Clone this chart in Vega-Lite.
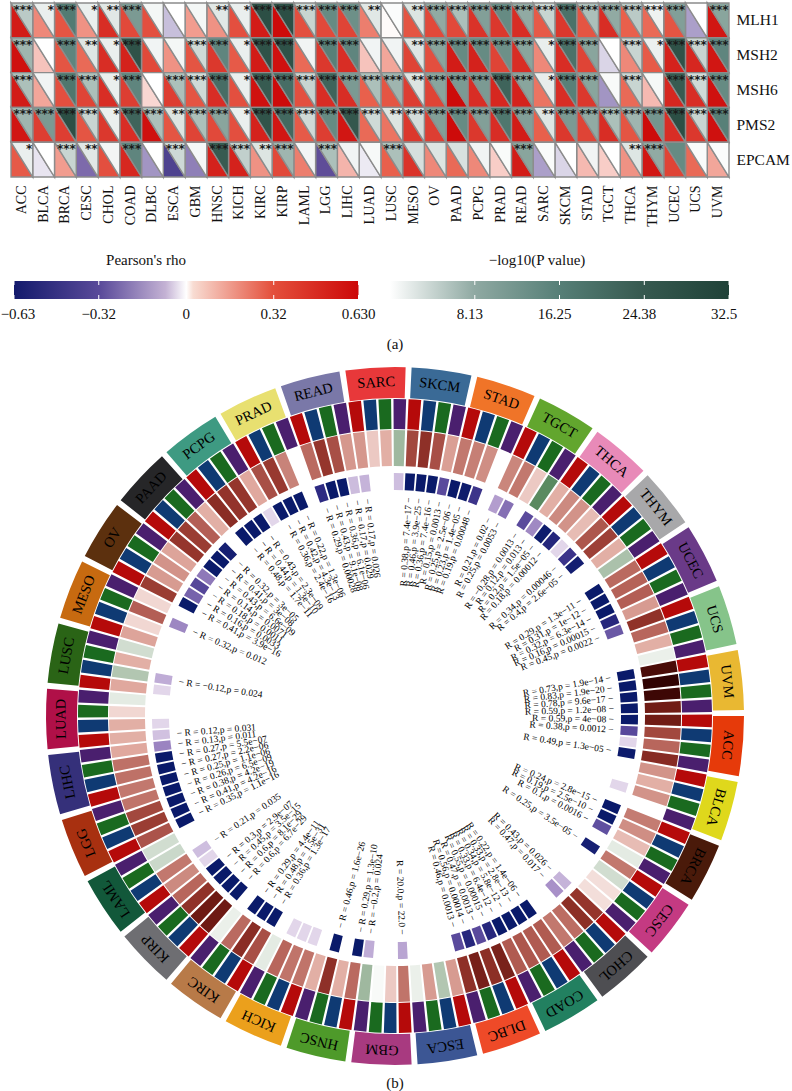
{"$schema":"https://vega.github.io/schema/vega-lite/v6.json","padding":0,"background":"white","bounds":"flush","spacing":0,"config":{"view":{"stroke":null},"font":"Liberation Serif"},
"datasets":{"heat":[
{"cancer":"ACC","gene":"MLH1","rho":0.56,"logp":5,"stars":"***"},{"cancer":"BLCA","gene":"MLH1","rho":0.24,"logp":1.5,"stars":"*"},{"cancer":"BRCA","gene":"MLH1","rho":0.36,"logp":17,"stars":"***"},{"cancer":"CESC","gene":"MLH1","rho":0.22,"logp":1.5,"stars":"*"},{"cancer":"CHOL","gene":"MLH1","rho":0.5,"logp":2.2,"stars":"**"},{"cancer":"COAD","gene":"MLH1","rho":0.4,"logp":11,"stars":"***"},{"cancer":"DLBC","gene":"MLH1","rho":0.38,"logp":0.8,"stars":""},{"cancer":"ESCA","gene":"MLH1","rho":-0.12,"logp":0,"stars":""},{"cancer":"GBM","gene":"MLH1","rho":0.2,"logp":0.8,"stars":""},{"cancer":"HNSC","gene":"MLH1","rho":0.22,"logp":2.2,"stars":"**"},{"cancer":"KICH","gene":"MLH1","rho":0.38,"logp":1.5,"stars":"*"},{"cancer":"KIRC","gene":"MLH1","rho":0.56,"logp":28,"stars":"***"},{"cancer":"KIRP","gene":"MLH1","rho":0.62,"logp":28,"stars":"***"},{"cancer":"LAML","gene":"MLH1","rho":0.38,"logp":4,"stars":"***"},{"cancer":"LGG","gene":"MLH1","rho":0.4,"logp":14,"stars":"***"},{"cancer":"LIHC","gene":"MLH1","rho":0.42,"logp":13,"stars":"***"},{"cancer":"LUAD","gene":"MLH1","rho":0.26,"logp":2.2,"stars":"**"},{"cancer":"LUSC","gene":"MLH1","rho":0.01,"logp":0.3,"stars":""},{"cancer":"MESO","gene":"MLH1","rho":0.36,"logp":2.5,"stars":"**"},{"cancer":"OV","gene":"MLH1","rho":0.4,"logp":8,"stars":"***"},{"cancer":"PAAD","gene":"MLH1","rho":0.4,"logp":6,"stars":"***"},{"cancer":"PCPG","gene":"MLH1","rho":0.48,"logp":10,"stars":"***"},{"cancer":"PRAD","gene":"MLH1","rho":0.46,"logp":14,"stars":"***"},{"cancer":"READ","gene":"MLH1","rho":0.5,"logp":8,"stars":"***"},{"cancer":"SARC","gene":"MLH1","rho":0.34,"logp":4,"stars":"***"},{"cancer":"SKCM","gene":"MLH1","rho":0.46,"logp":19,"stars":"***"},{"cancer":"STAD","gene":"MLH1","rho":0.36,"logp":6,"stars":"***"},{"cancer":"TGCT","gene":"MLH1","rho":0.5,"logp":8,"stars":"***"},{"cancer":"THCA","gene":"MLH1","rho":0.32,"logp":5,"stars":"***"},{"cancer":"THYM","gene":"MLH1","rho":0.3,"logp":1.2,"stars":"***"},{"cancer":"UCEC","gene":"MLH1","rho":0.36,"logp":10,"stars":"***"},{"cancer":"UCS","gene":"MLH1","rho":-0.18,"logp":0,"stars":""},{"cancer":"UVM","gene":"MLH1","rho":0.58,"logp":9,"stars":"***"},
{"cancer":"ACC","gene":"MSH2","rho":0.6,"logp":7,"stars":"***"},{"cancer":"BLCA","gene":"MSH2","rho":0.12,"logp":0,"stars":""},{"cancer":"BRCA","gene":"MSH2","rho":0.36,"logp":15,"stars":"***"},{"cancer":"CESC","gene":"MSH2","rho":0.3,"logp":2.4,"stars":"**"},{"cancer":"CHOL","gene":"MSH2","rho":0.5,"logp":1.5,"stars":"*"},{"cancer":"COAD","gene":"MSH2","rho":0.54,"logp":27,"stars":"***"},{"cancer":"DLBC","gene":"MSH2","rho":0.4,"logp":1,"stars":""},{"cancer":"ESCA","gene":"MSH2","rho":0.22,"logp":0.8,"stars":""},{"cancer":"GBM","gene":"MSH2","rho":0.36,"logp":3.5,"stars":"***"},{"cancer":"HNSC","gene":"MSH2","rho":0.46,"logp":15,"stars":"***"},{"cancer":"KICH","gene":"MSH2","rho":0.34,"logp":1.5,"stars":"*"},{"cancer":"KIRC","gene":"MSH2","rho":0.56,"logp":27,"stars":"***"},{"cancer":"KIRP","gene":"MSH2","rho":0.6,"logp":27,"stars":"***"},{"cancer":"LAML","gene":"MSH2","rho":0.3,"logp":1,"stars":""},{"cancer":"LGG","gene":"MSH2","rho":0.46,"logp":16,"stars":"***"},{"cancer":"LIHC","gene":"MSH2","rho":0.5,"logp":15,"stars":"***"},{"cancer":"LUAD","gene":"MSH2","rho":0.12,"logp":1,"stars":""},{"cancer":"LUSC","gene":"MSH2","rho":0.18,"logp":1,"stars":""},{"cancer":"MESO","gene":"MSH2","rho":0.42,"logp":2.4,"stars":"**"},{"cancer":"OV","gene":"MSH2","rho":0.38,"logp":9,"stars":"***"},{"cancer":"PAAD","gene":"MSH2","rho":0.56,"logp":14,"stars":"***"},{"cancer":"PCPG","gene":"MSH2","rho":0.54,"logp":14,"stars":"***"},{"cancer":"PRAD","gene":"MSH2","rho":0.42,"logp":13,"stars":"***"},{"cancer":"READ","gene":"MSH2","rho":0.5,"logp":9,"stars":"***"},{"cancer":"SARC","gene":"MSH2","rho":0.24,"logp":1.6,"stars":"*"},{"cancer":"SKCM","gene":"MSH2","rho":0.5,"logp":19,"stars":"***"},{"cancer":"STAD","gene":"MSH2","rho":0.42,"logp":9,"stars":"***"},{"cancer":"TGCT","gene":"MSH2","rho":-0.08,"logp":0,"stars":""},{"cancer":"THCA","gene":"MSH2","rho":0.24,"logp":4,"stars":"***"},{"cancer":"THYM","gene":"MSH2","rho":0.34,"logp":1.4,"stars":"*"},{"cancer":"UCEC","gene":"MSH2","rho":0.54,"logp":27,"stars":"***"},{"cancer":"UCS","gene":"MSH2","rho":0.52,"logp":4,"stars":"***"},{"cancer":"UVM","gene":"MSH2","rho":0.58,"logp":15,"stars":"***"},
{"cancer":"ACC","gene":"MSH6","rho":0.56,"logp":6,"stars":"***"},{"cancer":"BLCA","gene":"MSH6","rho":0.18,"logp":1,"stars":""},{"cancer":"BRCA","gene":"MSH6","rho":0.38,"logp":18,"stars":"***"},{"cancer":"CESC","gene":"MSH6","rho":0.42,"logp":6,"stars":"***"},{"cancer":"CHOL","gene":"MSH6","rho":0.5,"logp":1.5,"stars":"*"},{"cancer":"COAD","gene":"MSH6","rho":0.44,"logp":15,"stars":"***"},{"cancer":"DLBC","gene":"MSH6","rho":0.08,"logp":0,"stars":""},{"cancer":"ESCA","gene":"MSH6","rho":0.44,"logp":6,"stars":"***"},{"cancer":"GBM","gene":"MSH6","rho":0.36,"logp":3.5,"stars":"***"},{"cancer":"HNSC","gene":"MSH6","rho":0.5,"logp":20,"stars":"***"},{"cancer":"KICH","gene":"MSH6","rho":0.38,"logp":1.5,"stars":"*"},{"cancer":"KIRC","gene":"MSH6","rho":0.6,"logp":24,"stars":"***"},{"cancer":"KIRP","gene":"MSH6","rho":0.62,"logp":20,"stars":"***"},{"cancer":"LAML","gene":"MSH6","rho":0.38,"logp":4,"stars":"***"},{"cancer":"LGG","gene":"MSH6","rho":0.5,"logp":22,"stars":"***"},{"cancer":"LIHC","gene":"MSH6","rho":0.5,"logp":11,"stars":"***"},{"cancer":"LUAD","gene":"MSH6","rho":0.32,"logp":6,"stars":"***"},{"cancer":"LUSC","gene":"MSH6","rho":0.36,"logp":7,"stars":"***"},{"cancer":"MESO","gene":"MSH6","rho":0.44,"logp":2.5,"stars":"**"},{"cancer":"OV","gene":"MSH6","rho":0.42,"logp":9,"stars":"***"},{"cancer":"PAAD","gene":"MSH6","rho":0.62,"logp":11,"stars":"***"},{"cancer":"PCPG","gene":"MSH6","rho":0.5,"logp":11,"stars":"***"},{"cancer":"PRAD","gene":"MSH6","rho":0.52,"logp":22,"stars":"***"},{"cancer":"READ","gene":"MSH6","rho":0.54,"logp":9,"stars":"***"},{"cancer":"SARC","gene":"MSH6","rho":0.28,"logp":1.7,"stars":"*"},{"cancer":"SKCM","gene":"MSH6","rho":0.5,"logp":16,"stars":"***"},{"cancer":"STAD","gene":"MSH6","rho":0.46,"logp":9,"stars":"***"},{"cancer":"TGCT","gene":"MSH6","rho":-0.2,"logp":0.5,"stars":""},{"cancer":"THCA","gene":"MSH6","rho":0.3,"logp":4,"stars":"***"},{"cancer":"THYM","gene":"MSH6","rho":0.14,"logp":0.7,"stars":""},{"cancer":"UCEC","gene":"MSH6","rho":0.52,"logp":24,"stars":"***"},{"cancer":"UCS","gene":"MSH6","rho":0.5,"logp":3.5,"stars":"***"},{"cancer":"UVM","gene":"MSH6","rho":0.6,"logp":14,"stars":"***"},
{"cancer":"ACC","gene":"PMS2","rho":0.58,"logp":7,"stars":"***"},{"cancer":"BLCA","gene":"PMS2","rho":0.44,"logp":11,"stars":"***"},{"cancer":"BRCA","gene":"PMS2","rho":0.44,"logp":28,"stars":"***"},{"cancer":"CESC","gene":"PMS2","rho":0.36,"logp":4,"stars":"***"},{"cancer":"CHOL","gene":"PMS2","rho":0.46,"logp":1.5,"stars":"*"},{"cancer":"COAD","gene":"PMS2","rho":0.5,"logp":22,"stars":"***"},{"cancer":"DLBC","gene":"PMS2","rho":0.6,"logp":6,"stars":"***"},{"cancer":"ESCA","gene":"PMS2","rho":0.36,"logp":2.5,"stars":"**"},{"cancer":"GBM","gene":"PMS2","rho":0.42,"logp":6,"stars":"***"},{"cancer":"HNSC","gene":"PMS2","rho":0.4,"logp":9,"stars":"***"},{"cancer":"KICH","gene":"PMS2","rho":0.38,"logp":1.5,"stars":"*"},{"cancer":"KIRC","gene":"PMS2","rho":0.54,"logp":26,"stars":"***"},{"cancer":"KIRP","gene":"PMS2","rho":0.58,"logp":21,"stars":"***"},{"cancer":"LAML","gene":"PMS2","rho":0.34,"logp":3.5,"stars":"***"},{"cancer":"LGG","gene":"PMS2","rho":0.44,"logp":14,"stars":"***"},{"cancer":"LIHC","gene":"PMS2","rho":0.58,"logp":25,"stars":"***"},{"cancer":"LUAD","gene":"PMS2","rho":0.3,"logp":3.5,"stars":"***"},{"cancer":"LUSC","gene":"PMS2","rho":0.28,"logp":2.5,"stars":"**"},{"cancer":"MESO","gene":"PMS2","rho":0.46,"logp":3.2,"stars":"***"},{"cancer":"OV","gene":"PMS2","rho":0.44,"logp":10,"stars":"***"},{"cancer":"PAAD","gene":"PMS2","rho":0.62,"logp":14,"stars":"***"},{"cancer":"PCPG","gene":"PMS2","rho":0.46,"logp":10,"stars":"***"},{"cancer":"PRAD","gene":"PMS2","rho":0.5,"logp":18,"stars":"***"},{"cancer":"READ","gene":"PMS2","rho":0.56,"logp":10,"stars":"***"},{"cancer":"SARC","gene":"PMS2","rho":0.32,"logp":2.4,"stars":"**"},{"cancer":"SKCM","gene":"PMS2","rho":0.46,"logp":11,"stars":"***"},{"cancer":"STAD","gene":"PMS2","rho":0.42,"logp":8,"stars":"***"},{"cancer":"TGCT","gene":"PMS2","rho":0.5,"logp":6,"stars":"***"},{"cancer":"THCA","gene":"PMS2","rho":0.36,"logp":7,"stars":"***"},{"cancer":"THYM","gene":"PMS2","rho":0.62,"logp":12,"stars":"***"},{"cancer":"UCEC","gene":"PMS2","rho":0.5,"logp":28,"stars":"***"},{"cancer":"UCS","gene":"PMS2","rho":0.46,"logp":4,"stars":"***"},{"cancer":"UVM","gene":"PMS2","rho":0.6,"logp":16,"stars":"***"},
{"cancer":"ACC","gene":"EPCAM","rho":0.34,"logp":1.5,"stars":"*"},{"cancer":"BLCA","gene":"EPCAM","rho":-0.05,"logp":0,"stars":""},{"cancer":"BRCA","gene":"EPCAM","rho":0.2,"logp":4,"stars":"***"},{"cancer":"CESC","gene":"EPCAM","rho":-0.28,"logp":2.2,"stars":"**"},{"cancer":"CHOL","gene":"EPCAM","rho":0.38,"logp":0.9,"stars":""},{"cancer":"COAD","gene":"EPCAM","rho":0.52,"logp":15,"stars":"***"},{"cancer":"DLBC","gene":"EPCAM","rho":-0.2,"logp":0,"stars":""},{"cancer":"ESCA","gene":"EPCAM","rho":-0.42,"logp":3.6,"stars":"***"},{"cancer":"GBM","gene":"EPCAM","rho":-0.24,"logp":0.7,"stars":""},{"cancer":"HNSC","gene":"EPCAM","rho":0.54,"logp":24,"stars":"***"},{"cancer":"KICH","gene":"EPCAM","rho":0.54,"logp":4.5,"stars":"***"},{"cancer":"KIRC","gene":"EPCAM","rho":0.22,"logp":2.5,"stars":"**"},{"cancer":"KIRP","gene":"EPCAM","rho":0.4,"logp":7,"stars":"***"},{"cancer":"LAML","gene":"EPCAM","rho":0.26,"logp":0.9,"stars":""},{"cancer":"LGG","gene":"EPCAM","rho":-0.36,"logp":6,"stars":"***"},{"cancer":"LIHC","gene":"EPCAM","rho":0.15,"logp":1,"stars":""},{"cancer":"LUAD","gene":"EPCAM","rho":-0.04,"logp":0.6,"stars":""},{"cancer":"LUSC","gene":"EPCAM","rho":0.32,"logp":6,"stars":"***"},{"cancer":"MESO","gene":"EPCAM","rho":0.48,"logp":3,"stars":""},{"cancer":"OV","gene":"EPCAM","rho":0.24,"logp":2.5,"stars":""},{"cancer":"PAAD","gene":"EPCAM","rho":0.3,"logp":2.8,"stars":""},{"cancer":"PCPG","gene":"EPCAM","rho":0.24,"logp":1,"stars":""},{"cancer":"PRAD","gene":"EPCAM","rho":0.1,"logp":0.4,"stars":""},{"cancer":"READ","gene":"EPCAM","rho":0.56,"logp":9,"stars":"***"},{"cancer":"SARC","gene":"EPCAM","rho":-0.18,"logp":0.4,"stars":""},{"cancer":"SKCM","gene":"EPCAM","rho":-0.08,"logp":0,"stars":""},{"cancer":"STAD","gene":"EPCAM","rho":0.14,"logp":1,"stars":""},{"cancer":"TGCT","gene":"EPCAM","rho":0.1,"logp":0,"stars":""},{"cancer":"THCA","gene":"EPCAM","rho":0.22,"logp":2.4,"stars":"**"},{"cancer":"THYM","gene":"EPCAM","rho":0.58,"logp":8,"stars":"***"},{"cancer":"UCEC","gene":"EPCAM","rho":0.42,"logp":14,"stars":""},{"cancer":"UCS","gene":"EPCAM","rho":0.3,"logp":0.4,"stars":""},{"cancer":"UVM","gene":"EPCAM","rho":0.18,"logp":0.3,"stars":""}
],"bars":[
{"cancer":"ACC","gene":"MLH1","r":0.59,"p":4e-8,"label":"R = 0.59,p = 4e−08"},{"cancer":"ACC","gene":"MSH2","r":0.38,"p":0.0012,"label":"R = 0.38,p = 0.0012"},{"cancer":"ACC","gene":"MSH6","r":0.3,"p":0.04},{"cancer":"ACC","gene":"PMS2","r":0.49,"p":1.3e-5,"label":"R = 0.49,p = 1.3e−05"},
{"cancer":"BLCA","gene":"MLH1","r":0.18},{"cancer":"BLCA","gene":"MSH2","r":0.12},{"cancer":"BLCA","gene":"MSH6","r":0.18,"p":0.04},{"cancer":"BLCA","gene":"PMS2","r":0},
{"cancer":"BRCA","gene":"MLH1","r":0.24,"p":2.8e-15,"label":"R = 0.24,p = 2.8e−15"},{"cancer":"BRCA","gene":"MSH2","r":0.19,"p":2.5e-10,"label":"R = 0.19,p = 2.5e−10"},{"cancer":"BRCA","gene":"MSH6","r":0.1,"p":0.0016,"label":"R = 0.1,p = 0.0016"},{"cancer":"BRCA","gene":"PMS2","r":-0.08},
{"cancer":"CESC","gene":"MLH1","r":0.25,"p":3.5e-5,"label":"R = 0.25,p = 3.5e−05"},{"cancer":"CESC","gene":"MSH2","r":-0.12},{"cancer":"CESC","gene":"MSH6","r":0.05},{"cancer":"CESC","gene":"PMS2","r":0.05},
{"cancer":"CHOL","gene":"MLH1","r":0.43,"p":0.026,"label":"R = 0.43,p = 0.026"},{"cancer":"CHOL","gene":"MSH2","r":0.47,"p":0.017,"label":"R = 0.47,p = 0.017"},{"cancer":"CHOL","gene":"MSH6","r":0.28},{"cancer":"CHOL","gene":"PMS2","r":0.25},
{"cancer":"COAD","gene":"MLH1","r":0.33,"p":1.4e-6,"label":"R = 0.22,p = 1.4e−06"},{"cancer":"COAD","gene":"MSH2","r":0.33,"p":2.8e-13,"label":"R = 0.33,p = 2.8e−13"},{"cancer":"COAD","gene":"MSH6","r":0.34,"p":5.8e-12,"label":"R = 0.34,p = 5.8e−12"},{"cancer":"COAD","gene":"PMS2","r":0.33,"p":6.4e-12,"label":"R = 0.33,p = 6.4e−12"},
{"cancer":"DLBC","gene":"MLH1","r":0.55,"p":0.00015,"label":"R = 0.55,p = 0.00015"},{"cancer":"DLBC","gene":"MSH2","r":0.47,"p":0.0013,"label":"R = 0.47,p = 0.0013"},{"cancer":"DLBC","gene":"MSH6","r":0.56,"p":0.00014,"label":"R = 0.56,p = 0.00014"},{"cancer":"DLBC","gene":"PMS2","r":0.46,"p":0.0013,"label":"R = 0.46,p = 0.0013"},
{"cancer":"ESCA","gene":"MLH1","r":0.16},{"cancer":"ESCA","gene":"MSH2","r":-0.17},{"cancer":"ESCA","gene":"MSH6","r":0.16},{"cancer":"ESCA","gene":"PMS2","r":-0.06},
{"cancer":"GBM","gene":"MLH1","r":0.26,"p":0.022,"label":"R = 20.0,p = 22.0"},{"cancer":"GBM","gene":"MSH2","r":0.08},{"cancer":"GBM","gene":"MSH6","r":-0.02},{"cancer":"GBM","gene":"PMS2","r":-0.2,"p":0.024,"label":"R = −0.2,p = 0.024"},
{"cancer":"HNSC","gene":"MLH1","r":0.29,"p":1.3e-10,"label":"R = 0.29,p = 1.3e−10"},{"cancer":"HNSC","gene":"MSH2","r":0.12},{"cancer":"HNSC","gene":"MSH6","r":0.46,"p":1.6e-26,"label":"R = 0.46,p = 1.6e−26"},{"cancer":"HNSC","gene":"PMS2","r":0.12},
{"cancer":"KICH","gene":"MLH1","r":0.26,"p":0.04},{"cancer":"KICH","gene":"MSH2","r":0.26,"p":0.04},{"cancer":"KICH","gene":"MSH6","r":0.3,"p":0.04},{"cancer":"KICH","gene":"PMS2","r":-0.08},
{"cancer":"KIRC","gene":"MLH1","r":0.36,"p":1.3e-17,"label":"R = 0.36,p = 1.3e−17"},{"cancer":"KIRC","gene":"MSH2","r":0.48,"p":1.5e-31,"label":"R = 0.48,p = 1.5e−31"},{"cancer":"KIRC","gene":"MSH6","r":0.29,"p":4.4e-11,"label":"R = 0.29,p = 4.4e−11"},{"cancer":"KIRC","gene":"PMS2","r":-0.06},
{"cancer":"KIRP","gene":"MLH1","r":0.6,"p":6.7e-29,"label":"R = 0.6,p = 6.7e−29"},{"cancer":"KIRP","gene":"MSH2","r":0.6,"p":8.1e-29,"label":"R = 0.6,p = 8.1e−29"},{"cancer":"KIRP","gene":"MSH6","r":0.45,"p":3.5e-15,"label":"R = 0.45,p = 3.5e−15"},{"cancer":"KIRP","gene":"PMS2","r":0.3,"p":2.9e-7,"label":"R = 0.3,p = 2.9e−07"},
{"cancer":"LAML","gene":"MLH1","r":0.2,"p":0.04},{"cancer":"LAML","gene":"MSH2","r":0.25,"p":0.03,"label":"R = 0.21,p = 0.035"},{"cancer":"LAML","gene":"MSH6","r":-0.13},{"cancer":"LAML","gene":"PMS2","r":-0.12},
{"cancer":"LGG","gene":"MLH1","r":0.35,"p":1.1e-16,"label":"R = 0.35,p = 1.1e−16"},{"cancer":"LGG","gene":"MSH2","r":0.41,"p":4.2e-16,"label":"R = 0.41,p = 4.2e−16"},{"cancer":"LGG","gene":"MSH6","r":0.38,"p":4.2e-19,"label":"R = 0.38,p = 4.2e−19"},{"cancer":"LGG","gene":"PMS2","r":0.26,"p":6.5e-9,"label":"R = 0.26,p = 6.5e−09"},
{"cancer":"LIHC","gene":"MLH1","r":0.25,"p":1.1e-6,"label":"R = 0.25,p = 1.1e−06"},{"cancer":"LIHC","gene":"MSH2","r":0.27,"p":2.2e-6,"label":"R = 0.27,p = 2.2e−06"},{"cancer":"LIHC","gene":"MSH6","r":0.27,"p":5.5e-7,"label":"R = 0.27,p = 5.5e−07"},{"cancer":"LIHC","gene":"PMS2","r":0.13,"p":0.011,"label":"R = 0.13,p = 0.011"},
{"cancer":"LUAD","gene":"MLH1","r":0.12,"p":0.031,"label":"R = 0.12,p = 0.031"},{"cancer":"LUAD","gene":"MSH2","r":0.12,"p":0.04},{"cancer":"LUAD","gene":"MSH6","r":0.06},{"cancer":"LUAD","gene":"PMS2","r":-0.08},
{"cancer":"LUSC","gene":"MLH1","r":0.13,"p":0.04},{"cancer":"LUSC","gene":"MSH2","r":-0.17,"p":0.024,"label":"R = −0.12,p = 0.024"},{"cancer":"LUSC","gene":"MSH6","r":0.12},{"cancer":"LUSC","gene":"PMS2","r":-0.12},
{"cancer":"MESO","gene":"MLH1","r":0.14},{"cancer":"MESO","gene":"MSH2","r":0.06},{"cancer":"MESO","gene":"MSH6","r":0.32,"p":0.012,"label":"R = 0.32,p = 0.012"},{"cancer":"MESO","gene":"PMS2","r":0.06},
{"cancer":"OV","gene":"MLH1","r":0.41,"p":3.9e-16,"label":"R = 0.41,p = 3.9e−16"},{"cancer":"OV","gene":"MSH2","r":0.16,"p":0.0033,"label":"R = 0.16,p = 0.0033"},{"cancer":"OV","gene":"MSH6","r":0.18,"p":0.0011,"label":"R = 0.18,p = 0.0011"},{"cancer":"OV","gene":"PMS2","r":0.14,"p":0.0071,"label":"R = 0.14,p = 0.0071"},
{"cancer":"PAAD","gene":"MLH1","r":0.43,"p":6.6e-9,"label":"R = 0.43,p = 6.6e−09"},{"cancer":"PAAD","gene":"MSH2","r":0.41,"p":3e-8,"label":"R = 0.41,p = 3e−08"},{"cancer":"PAAD","gene":"MSH6","r":0.32,"p":3e-5,"label":"R = 0.32,p = 3e−05"},{"cancer":"PAAD","gene":"PMS2","r":0.12},
{"cancer":"PCPG","gene":"MLH1","r":0.48,"p":1.7e-11,"label":"R = 0.48,p = 1.7e−11"},{"cancer":"PCPG","gene":"MSH2","r":0.44,"p":1.3e-10,"label":"R = 0.44,p = 1.3e−10"},{"cancer":"PCPG","gene":"MSH6","r":0.43,"p":2.3e-9,"label":"R = 0.43,p = 2.3e−09"},{"cancer":"PCPG","gene":"PMS2","r":0.13,"p":0.04},
{"cancer":"PRAD","gene":"MLH1","r":0.36,"p":2.4e-16,"label":"R = 0.36,p = 2.4e−16"},{"cancer":"PRAD","gene":"MSH2","r":0.42,"p":4.3e-13,"label":"R = 0.42,p = 4.3e−13"},{"cancer":"PRAD","gene":"MSH6","r":0.22,"p":1.3e-6,"label":"R = 0.22,p = 1.3e−06"},{"cancer":"PRAD","gene":"PMS2","r":0},
{"cancer":"READ","gene":"MLH1","r":0.29,"p":0.00028,"label":"R = 0.29,p = 0.00028"},{"cancer":"READ","gene":"MSH2","r":0.43,"p":9.1e-8,"label":"R = 0.43,p = 9.1e−08"},{"cancer":"READ","gene":"MSH6","r":0.36,"p":6.1e-6,"label":"R = 0.36,p = 6.1e−06"},{"cancer":"READ","gene":"PMS2","r":0.17,"p":0.029,"label":"R = 0.17,p = 0.029"},
{"cancer":"SARC","gene":"MLH1","r":0.17,"p":0.026,"label":"R = 0.17,p = 0.026"},{"cancer":"SARC","gene":"MSH2","r":0.08},{"cancer":"SARC","gene":"MSH6","r":0.12},{"cancer":"SARC","gene":"PMS2","r":-0.2,"p":0.03},
{"cancer":"SKCM","gene":"MLH1","r":0.38,"p":7.4e-17,"label":"R = 0.38,p = 7.4e−17"},{"cancer":"SKCM","gene":"MSH2","r":0.46,"p":3.9e-25,"label":"R = 0.46,p = 3.9e−25"},{"cancer":"SKCM","gene":"MSH6","r":0.36,"p":7.4e-16,"label":"R = 0.36,p = 7.4e−16"},{"cancer":"SKCM","gene":"PMS2","r":0.15,"p":0.0013,"label":"R = 0.15,p = 0.0013"},
{"cancer":"STAD","gene":"MLH1","r":0.25,"p":2.5e-6,"label":"R = 0.25,p = 2.5e−06"},{"cancer":"STAD","gene":"MSH2","r":0.23,"p":1.4e-5,"label":"R = 0.23,p = 1.4e−05"},{"cancer":"STAD","gene":"MSH6","r":0.19,"p":0.00048,"label":"R = 0.19,p = 0.00048"},{"cancer":"STAD","gene":"PMS2","r":0},
{"cancer":"TGCT","gene":"MLH1","r":0.21,"p":0.02,"label":"R = 0.21,p = 0.02"},{"cancer":"TGCT","gene":"MSH2","r":0.25,"p":0.0053,"label":"R = 0.25,p = 0.0053"},{"cancer":"TGCT","gene":"MSH6","r":0.08},{"cancer":"TGCT","gene":"PMS2","r":-0.28,"p":0.0013,"label":"R = −0.28,p = 0.0013"},
{"cancer":"THCA","gene":"MLH1","r":0.12,"p":0.013,"label":"R = 0.12,p = 0.013"},{"cancer":"THCA","gene":"MSH2","r":0.2,"p":1.5e-5,"label":"R = 0.2,p = 1.5e−05"},{"cancer":"THCA","gene":"MSH6","r":0.18,"p":0.00012,"label":"R = 0.18,p = 0.00012"},{"cancer":"THCA","gene":"PMS2","r":0.1,"p":0.04},
{"cancer":"THYM","gene":"MLH1","r":0.34,"p":0.00046,"label":"R = 0.34,p = 0.00046"},{"cancer":"THYM","gene":"MSH2","r":0.4,"p":2.6e-5,"label":"R = 0.4,p = 2.6e−05"},{"cancer":"THYM","gene":"MSH6","r":0.12},{"cancer":"THYM","gene":"PMS2","r":-0.18},
{"cancer":"UCEC","gene":"MLH1","r":0.29,"p":1.3e-11,"label":"R = 0.29,p = 1.3e−11"},{"cancer":"UCEC","gene":"MSH2","r":0.31,"p":1e-12,"label":"R = 0.31,p = 1e−12"},{"cancer":"UCEC","gene":"MSH6","r":0.32,"p":6.3e-14,"label":"R = 0.32,p = 6.3e−14"},{"cancer":"UCEC","gene":"PMS2","r":0.16,"p":0.00015,"label":"R = 0.16,p = 0.00015"},
{"cancer":"UCS","gene":"MLH1","r":0.45,"p":0.0022,"label":"R = 0.45,p = 0.0022"},{"cancer":"UCS","gene":"MSH2","r":0.3},{"cancer":"UCS","gene":"MSH6","r":0.12},{"cancer":"UCS","gene":"PMS2","r":-0.06},
{"cancer":"UVM","gene":"MLH1","r":0.73,"p":1.9e-14,"label":"R = 0.73,p = 1.9e−14"},{"cancer":"UVM","gene":"MSH2","r":0.83,"p":1.9e-20,"label":"R = 0.83,p = 1.9e−20"},{"cancer":"UVM","gene":"MSH6","r":0.78,"p":9.6e-17,"label":"R = 0.78,p = 9.6e−17"},{"cancer":"UVM","gene":"PMS2","r":0.59,"p":1.2e-8,"label":"R = 0.59,p = 1.2e−08"}
],"ticks":[
{"group":"rho","v":-0.63,"label":"−0.63"},{"group":"rho","v":-0.32,"label":"−0.32"},{"group":"rho","v":0,"label":"0"},{"group":"rho","v":0.32,"label":"0.32"},{"group":"rho","v":0.63,"label":"0.630"},
{"group":"logp","v":8.13,"label":"8.13"},{"group":"logp","v":16.25,"label":"16.25"},{"group":"logp","v":24.38,"label":"24.38"},{"group":"logp","v":32.5,"label":"32.5"}
]},
"vconcat":[
{"width":718,"height":174,"data":{"name":"heat"},
"encoding":{"x":{"field":"cancer","type":"nominal","sort":null,"scale":{"type":"band","paddingInner":0,"paddingOuter":0},"axis":{"title":null,"orient":"bottom","labelAngle":-90,"labelAlign":"right","labelBaseline":"middle","labelPadding":8,"ticks":false,"domain":false,"labelFont":"Liberation Serif","labelFontSize":14,"labelColor":"#111"}},"y":{"field":"gene","type":"nominal","sort":["MLH1","MSH2","MSH6","PMS2","EPCAM"],"scale":{"type":"band","paddingInner":0,"paddingOuter":0},"axis":{"title":null,"orient":"right","ticks":false,"domain":false,"labelPadding":7,"labelFont":"Liberation Serif","labelFontSize":15.5,"labelColor":"#111"}}},
"layer":[
{"mark":{"type":"point","filled":true,"opacity":1,"shape":"M-0.625,-1L-0.625,1L0.625,1Z","size":1211,"stroke":"#8c8c8c","strokeWidth":1.4},"encoding":{"color":{"field":"rho","type":"quantitative","legend":null,"scale":{"interpolate":"rgb","domain":[-0.63,-0.32,0,0.32,0.63],"range":["#131a6c","#6a559f","#ffffff","#e8604c","#cc0808"]}}}},
{"mark":{"type":"point","filled":true,"opacity":1,"shape":"M-0.625,-1L0.625,-1L0.625,1Z","size":1211,"stroke":"#8c8c8c","strokeWidth":1.4},"encoding":{"color":{"field":"logp","type":"quantitative","legend":null,"scale":{"interpolate":"rgb","domain":[0,8.13,16.25,24.38,32.5],"range":["#ffffff","#8fa9a2","#567f77","#36594f","#1f4238"]}}}},
{"mark":{"type":"text","align":"right","baseline":"middle","dx":10.5,"dy":-10.5,"font":"DejaVu Sans","fontSize":12,"fontWeight":"bold","color":"#1a1a1a"},"encoding":{"text":{"field":"stars"}}}
],"resolve":{"scale":{"color":"independent"}}},
{"width":718,"height":104,"data":{"values":[{"t":""}]},"mark":{"type":"text"},"encoding":{"text":{"field":"t"}}},
{"width":718,"height":18,"data":{"name":"ticks"},
"transform":[{"calculate":"datum.group=='rho'?3+(datum.v+0.63)/1.26*344.5:379+datum.v/32.5*339","as":"pos"}],
"layer":[
{"data":{"values":[{"from":3,"to":347.5}]},"transform":[],"mark":{"type":"rect","fill":{"x1":0,"y1":0,"x2":1,"y2":0,"gradient":"linear","stops":[{"offset":0,"color":"#131a6c"},{"offset":0.25,"color":"#5a4a9a"},{"offset":0.44,"color":"#c4b2d4"},{"offset":0.5,"color":"#ffffff"},{"offset":0.52,"color":"#f8dcd2"},{"offset":0.75,"color":"#e4503c"},{"offset":1,"color":"#cc0808"}]}},"encoding":{"x":{"field":"from","type":"quantitative","axis":null,"scale":{"domain":[0,718]}},"x2":{"field":"to"}}},
{"data":{"values":[{"from":379,"to":718}]},"transform":[],"mark":{"type":"rect","fill":{"x1":0,"y1":0,"x2":1,"y2":0,"gradient":"linear","stops":[{"offset":0,"color":"#ffffff"},{"offset":0.25,"color":"#8fa9a2"},{"offset":0.5,"color":"#567f77"},{"offset":0.75,"color":"#36594f"},{"offset":1,"color":"#1f4238"}]}},"encoding":{"x":{"field":"from","type":"quantitative","axis":null,"scale":{"domain":[0,718]}},"x2":{"field":"to"}}},
{"mark":{"type":"rule","color":"white","strokeWidth":1,"strokeDash":[4,10,4]},"encoding":{"x":{"field":"pos","type":"quantitative","axis":null,"scale":{"domain":[0,718]}}}},
{"transform":[{"filter":"datum.v==-0.63"}],"mark":{"type":"text","dy":23.5,"dx":4,"font":"Liberation Serif","fontSize":15,"color":"#111"},"encoding":{"x":{"field":"pos","type":"quantitative","axis":null,"scale":{"domain":[0,718]}},"text":{"field":"label"}}},
{"transform":[{"filter":"datum.group=='rho' && datum.v!=-0.63"}],"mark":{"type":"text","dy":23.5,"dx":0,"font":"Liberation Serif","fontSize":15,"color":"#111"},"encoding":{"x":{"field":"pos","type":"quantitative","axis":null,"scale":{"domain":[0,718]}},"text":{"field":"label"}}},
{"transform":[{"filter":"datum.group=='logp'"}],"mark":{"type":"text","dy":23.5,"dx":-5,"font":"Liberation Serif","fontSize":15,"color":"#111"},"encoding":{"x":{"field":"pos","type":"quantitative","axis":null,"scale":{"domain":[0,718]}},"text":{"field":"label"}}},
{"data":{"values":[{"title":"Pearson's rho","at":135},{"title":"−log10(P value)","at":526}]},"transform":[],"mark":{"type":"text","dy":-30,"font":"Liberation Serif","fontSize":15,"color":"#111"},"encoding":{"x":{"field":"at","type":"quantitative","axis":null,"scale":{"domain":[0,718]}},"text":{"field":"title"}}}
]},
{"width":768,"height":67,"data":{"values":[{"t":"(a)"}]},"mark":{"type":"text","dy":11,"font":"Liberation Serif","fontSize":15,"color":"#111"},"encoding":{"text":{"field":"t"}}},
{"width":768,"height":700,"data":{"name":"bars"},
"transform":[
{"calculate":"indexof(['ACC','BLCA','BRCA','CESC','CHOL','COAD','DLBC','ESCA','GBM','HNSC','KICH','KIRC','KIRP','LAML','LGG','LIHC','LUAD','LUSC','MESO','OV','PAAD','PCPG','PRAD','READ','SARC','SKCM','STAD','TGCT','THCA','THYM','UCEC','UCS','UVM'],datum.cancer)","as":"k"},
{"calculate":"indexof(['MLH1','MSH2','MSH6','PMS2'],datum.gene)","as":"j"},
{"calculate":"4*datum.k+datum.j+0.32","as":"t"},
{"calculate":"datum.t-0.42","as":"t0"},
{"calculate":"datum.t+0.42","as":"t1"},
{"calculate":"4*datum.k","as":"s0"},
{"calculate":"4*datum.k+3.64","as":"s1"},
{"calculate":"4*datum.k+1.82","as":"sm"},
{"calculate":"(90+datum.t*360/132)%360","as":"deg"}
],
"layer":[
{"transform":[{"filter":"datum.gene=='MLH1'"}],"mark":{"type":"arc","radius":349,"radius2":318},"encoding":{"theta":{"field":"s0","type":"quantitative","stack":false,"scale":{"domain":[0,132],"range":[1.5708,7.854]}},"theta2":{"field":"s1"},"color":{"field":"cancer","type":"nominal","legend":null,"scale":{"domain":["ACC","BLCA","BRCA","CESC","CHOL","COAD","DLBC","ESCA","GBM","HNSC","KICH","KIRC","KIRP","LAML","LGG","LIHC","LUAD","LUSC","MESO","OV","PAAD","PCPG","PRAD","READ","SARC","SKCM","STAD","TGCT","THCA","THYM","UCEC","UCS","UVM"],"range":["#e63a0a","#dfd81c","#4a1a0a","#c43a82","#4e4e52","#228060","#ee4a28","#3c5694","#a83a80","#4e9a2a","#eba01c","#b87a48","#6e6e72","#12583a","#a83010","#35307a","#b01048","#2a6416","#c76a10","#5c300e","#262628","#3e9a82","#e8e070","#7a78a8","#e8383a","#3a6a96","#f07428","#62a62e","#e88ab8","#a8a8aa","#6a3a88","#86c48a","#e9b832"]}}}},
{"transform":[{"filter":"datum.gene=='MLH1'"},{"calculate":"90+datum.sm*360/132","as":"rot"}],"mark":{"type":"text","radius":333.5,"align":"center","baseline":"middle","font":"Liberation Serif","fontSize":14.5,"color":"#000"},"encoding":{"theta":{"field":"sm","type":"quantitative","stack":false,"scale":{"domain":[0,132],"range":[1.5708,7.854]}},"text":{"field":"cancer"},"angle":{"field":"rot","type":"quantitative","scale":null}}},
{"mark":{"type":"arc","radius":317,"radius2":287},"encoding":{"theta":{"field":"t0","type":"quantitative","stack":false,"scale":{"domain":[0,132],"range":[1.5708,7.854]}},"theta2":{"field":"t1"},"color":{"field":"gene","type":"nominal","legend":null,"scale":{"domain":["MLH1","MSH2","MSH6","PMS2"],"range":["#b50a0a","#0f3a73","#1a6a1f","#4a1f6e"]}}}},
{"mark":{"type":"arc","radius":286,"radius2":250},"encoding":{"theta":{"field":"t0","type":"quantitative","stack":false,"scale":{"domain":[0,132],"range":[1.5708,7.854]}},"theta2":{"field":"t1"},"color":{"field":"r","type":"quantitative","legend":null,"scale":{"interpolate":"rgb","domain":[-0.28,-0.2,-0.1,0,0.13,0.2,0.3,0.43,0.6,0.73,0.83],"range":["#5a8a60","#9fb89f","#dde6dc","#ffffff","#e0a89e","#cc8a80","#b8665c","#95352c","#6e1a14","#4a0c08","#300303"]}}}},
{"transform":[{"filter":"isValid(datum.p)"}],"mark":{"type":"arc","radius":243,"radius2":226},"encoding":{"theta":{"field":"t0","type":"quantitative","stack":false,"scale":{"domain":[0,132],"range":[1.5708,7.854]}},"theta2":{"field":"t1"},"color":{"field":"p","type":"quantitative","legend":null,"scale":{"interpolate":"rgb","type":"log","domain":[1e-31,0.00001,0.0003,0.0013,0.017,0.04],"range":["#0a1a6a","#0a1a6a","#2e2a82","#5a4a9c","#a890c8","#e2d6ea"]}}}},
{"transform":[{"filter":"datum.label && datum.deg<180"},{"calculate":"datum.deg-90","as":"rot"},{"calculate":"datum.label+' −'","as":"txt"}],"mark":{"type":"text","radius":219,"align":"right","baseline":"middle","font":"Liberation Serif","fontSize":9.5,"color":"#000"},"encoding":{"theta":{"field":"t","type":"quantitative","stack":false,"scale":{"domain":[0,132],"range":[1.5708,7.854]}},"text":{"field":"txt"},"angle":{"field":"rot","type":"quantitative","scale":null}}},
{"transform":[{"filter":"datum.label && datum.deg>=180"},{"calculate":"datum.deg+90","as":"rot"},{"calculate":"'− '+datum.label","as":"txt"}],"mark":{"type":"text","radius":219,"align":"left","baseline":"middle","font":"Liberation Serif","fontSize":9.5,"color":"#000"},"encoding":{"theta":{"field":"t","type":"quantitative","stack":false,"scale":{"domain":[0,132],"range":[1.5708,7.854]}},"text":{"field":"txt"},"angle":{"field":"rot","type":"quantitative","scale":null}}}
],"resolve":{"scale":{"color":"independent"}}},
{"width":768,"height":26,"data":{"values":[{"t":"(b)"}]},"mark":{"type":"text","dy":4,"font":"Liberation Serif","fontSize":15,"color":"#111"},"encoding":{"text":{"field":"t"}}}
]}
